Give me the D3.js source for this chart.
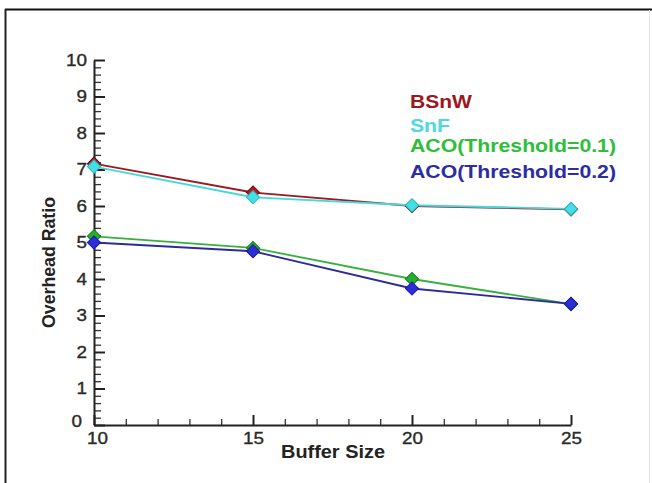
<!DOCTYPE html>
<html><head><meta charset="utf-8">
<script src="https://cdn.jsdelivr.net/npm/d3@7"></script>
<style>
html,body{margin:0;padding:0;background:#fff;}
svg{display:block;font-family:"Liberation Sans",Arial,sans-serif;}
</style></head>
<body>
<svg id="chart" width="652" height="483"></svg>
<script>
const bufferSizes = [10, 15, 20, 25];
const bsnw = [7.16, 6.37, 6.0, 5.91];
const snf = [7.08, 6.24, 6.02, 5.92];
const aco01 = [5.17, 4.85, 4.0, 3.31];
const aco02 = [5.0, 4.76, 3.74, 3.32];
const seriesNames = ["BSnW", "SnF", "ACO(Threshold=0.1)", "ACO(Threshold=0.2)"];
const xMajorTicks = [10, 15, 20, 25];
const yMajorTicks = [0,1,2,3,4,5,6,7,8,9,10];

const svg = d3.select("#chart");

// frame
svg.append("line").attr("x1",5).attr("x2",652).attr("y1",9.5).attr("y2",9.5).attr("stroke","#111").attr("stroke-width",2);
svg.append("line").attr("x1",5.5).attr("x2",5.5).attr("y1",9).attr("y2",483).attr("stroke","#222").attr("stroke-width",2);
svg.append("line").attr("x1",649.5).attr("x2",649.5).attr("y1",10).attr("y2",483).attr("stroke","#e4e4e4").attr("stroke-width",1);

const x = d3.scaleLinear().domain([10,25]).range([94,571]);
const y = d3.scaleLinear().domain([0,10]).range([425,60]);

// minor ticks
const xMinor = d3.range(10,26,1).filter(v => v % 5 !== 0);
const yMinor = d3.range(0,10.01,0.2).map(v => +v.toFixed(1)).filter(v => Math.abs(v - Math.round(v)) > 1e-6);

const gxm = svg.append("g").attr("transform","translate(0,425)")
  .call(d3.axisBottom(x).tickValues(xMinor).tickSizeInner(-6).tickSizeOuter(0).tickFormat(""));
const gym = svg.append("g").attr("transform","translate(94,0)")
  .call(d3.axisLeft(y).tickValues(yMinor).tickSizeInner(-7).tickSizeOuter(0).tickFormat(""));
[gxm,gym].forEach(g=>{g.select(".domain").remove(); g.selectAll(".tick line").attr("stroke","#333").attr("stroke-width",1.3);});

const gx = svg.append("g").attr("transform","translate(0,425)")
  .call(d3.axisBottom(x).tickValues(xMajorTicks).tickSizeInner(-10).tickSizeOuter(0).tickPadding(8));
const gy = svg.append("g").attr("transform","translate(94,0)")
  .call(d3.axisLeft(y).tickValues(yMajorTicks).tickSizeInner(-11).tickSizeOuter(0).tickPadding(7));
[gx,gy].forEach(g=>{
  g.select(".domain").attr("stroke","#222").attr("stroke-width",2);
  g.selectAll(".tick line").attr("stroke","#222").attr("stroke-width",2);
  g.selectAll(".tick text").attr("fill","#2a2a2a").attr("stroke","#2a2a2a").attr("stroke-width",0.35)
    .style("font-size","16px").style("font-family","'Liberation Sans',Arial,sans-serif")
    .each(function(){ const t=d3.select(this); t.attr("textLength", t.text().length*10.5).attr("lengthAdjust","spacingAndGlyphs"); });
});
// corner labels nudged like the original
gy.selectAll(".tick").filter(d => d === 0).select("text").attr("dx", -5).attr("dy", "0.1em");
gx.selectAll(".tick").filter(d => d === 10).select("text").attr("dx", 3);

// axis titles
svg.append("text").attr("x",333).attr("y",458).attr("text-anchor","middle")
  .style("font-size","19px").style("font-weight","bold").attr("fill","#222")
  .attr("textLength",104).attr("lengthAdjust","spacingAndGlyphs").text("Buffer Size");
svg.append("text").attr("transform","translate(55,262.5) rotate(-90)").attr("text-anchor","middle")
  .style("font-size","18px").style("font-weight","bold").attr("fill","#222")
  .attr("textLength",131).attr("lengthAdjust","spacingAndGlyphs").text("Overhead Ratio");

// series
const series = [
  {name: seriesNames[0], values: bsnw, line: "#9a1c22", fill: "#b01c24", stroke: "#5a1010"},
  {name: seriesNames[1], values: snf, line: "#48d8dc", fill: "#40e0e6", stroke: "#30b8c0"},
  {name: seriesNames[2], values: aco01, line: "#38b040", fill: "#22b02c", stroke: "#1a7a20"},
  {name: seriesNames[3], values: aco02, line: "#2c2c98", fill: "#2c2cd8", stroke: "#1c1c90"}
];
const line = d3.line().x((d,i)=>x(bufferSizes[i])).y(d=>y(d));
series.forEach(s=>{
  svg.append("path").datum(s.values).attr("d",line).attr("fill","none")
    .attr("stroke",s.line).attr("stroke-width",1.8);
});
series.forEach(s=>{
  svg.append("g").selectAll("path").data(s.values).join("path")
    .attr("d", d3.symbol().type(d3.symbolSquare).size(88))
    .attr("transform",(d,i)=>`translate(${x(bufferSizes[i])},${y(d)}) rotate(45)`)
    .attr("fill",s.fill).attr("stroke",s.stroke).attr("stroke-width",1);
});

// legend
const legendY = [108, 131.5, 152, 178];
const legendW = [62, 40, 206, 206];
const legendColors = ["#a0161e", "#50d8e0", "#2ebe3a", "#2c2ca4"];
seriesNames.forEach((n,i)=>{
  svg.append("text").attr("x",410).attr("y",legendY[i])
    .style("font-size","18px").style("font-weight","bold").attr("fill",legendColors[i])
    .attr("textLength",legendW[i]).attr("lengthAdjust","spacingAndGlyphs").text(n);
});
</script>
</body></html>
